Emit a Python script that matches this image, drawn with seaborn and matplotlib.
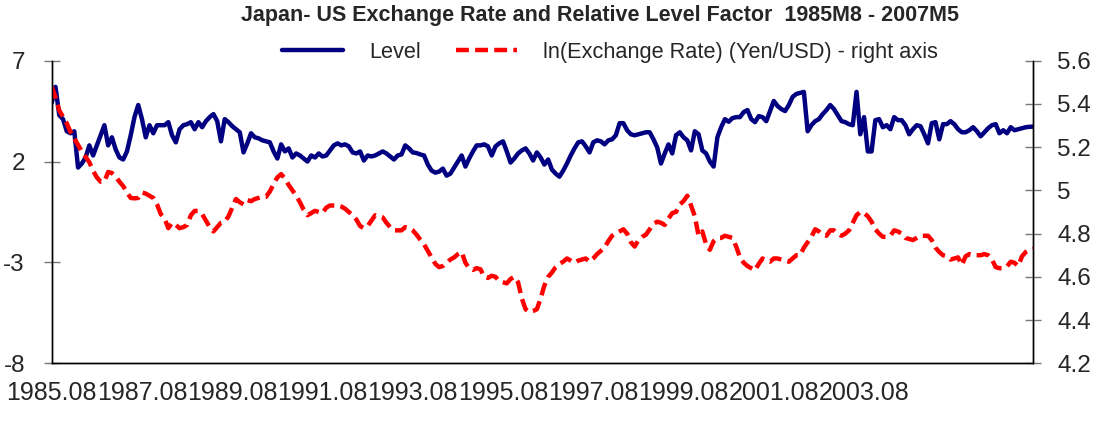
import matplotlib
matplotlib.use("Agg")
import matplotlib.pyplot as plt
import numpy as np
import pandas as pd
import seaborn as sns

# monthly data, 1985M8 - 2007M5
level = [
    4.9, 5.7, 4.3, 4.1, 3.5, 3.4, 3.5, 1.7, 1.9, 2.2,
    2.8, 2.3, 2.8, 3.3, 3.8, 2.8, 3.2, 2.6, 2.2, 2.1,
    2.5, 3.3, 4.2, 4.8, 4.1, 3.2, 3.8, 3.4, 3.8, 3.8,
    3.8, 3.95, 3.3, 2.95, 3.6, 3.8, 3.85, 3.95, 3.6, 3.95,
    3.7, 4.0, 4.2, 4.35, 4.0, 3.0, 4.1, 3.95, 3.75, 3.6,
    3.45, 2.45, 2.9, 3.4, 3.2, 3.15, 3.05, 3.0, 2.95, 2.5,
    2.15, 2.85, 2.5, 2.65, 2.2, 2.4, 2.3, 2.15, 2.0, 2.3,
    2.2, 2.4, 2.25, 2.3, 2.55, 2.8, 2.9, 2.8, 2.85, 2.75,
    2.45, 2.4, 2.5, 2.05, 2.3, 2.25, 2.3, 2.4, 2.5, 2.4,
    2.25, 2.1, 2.3, 2.35, 2.8, 2.65, 2.45, 2.42, 2.35, 2.3,
    1.85, 1.55, 1.45, 1.5, 1.65, 1.3, 1.4, 1.7, 2.0, 2.3,
    1.75, 2.15, 2.5, 2.8, 2.8, 2.85, 2.75, 2.3, 2.75, 2.9,
    3.0, 2.5, 1.95, 2.15, 2.4, 2.55, 2.65, 2.4, 2.05, 2.45,
    2.2, 1.85, 2.1, 1.6, 1.4, 1.25, 1.55, 1.9, 2.3, 2.65,
    2.95, 3.0, 2.75, 2.45, 2.95, 3.05, 3.0, 2.85, 3.05, 3.1,
    3.3, 3.9, 3.9, 3.55, 3.35, 3.3, 3.35, 3.4, 3.45, 3.45,
    3.1, 2.7, 1.9, 2.4, 2.85, 2.4, 3.3, 3.45, 3.2, 3.05,
    2.55, 3.5, 3.35, 2.55, 2.4, 2.0, 1.75, 3.2, 3.7, 4.1,
    3.97, 4.15, 4.2, 4.2, 4.45, 4.55, 4.1, 3.95, 4.25, 4.2,
    4.0, 4.5, 5.0, 4.75, 4.6, 4.5, 4.8, 5.2, 5.35, 5.4,
    5.45, 3.5, 3.8, 4.0, 4.1, 4.35, 4.55, 4.8, 4.6, 4.3,
    4.0, 3.95, 3.85, 3.8, 5.45, 3.35, 4.2, 2.5, 2.5, 4.05,
    4.1, 3.7, 3.8, 3.6, 4.2, 4.05, 4.05, 3.8, 3.35, 3.6,
    3.8, 3.75, 3.35, 2.9, 3.9, 3.95, 3.1, 3.85, 3.85, 4.0,
    3.85, 3.6, 3.45, 3.45, 3.55, 3.7, 3.5, 3.25, 3.45, 3.65,
    3.8, 3.85, 3.4, 3.55, 3.4, 3.7, 3.55, 3.6, 3.65, 3.7,
    3.72, 3.73,
]

ln_rate = [
    5.48, 5.43, 5.37, 5.34, 5.31, 5.27, 5.24, 5.21, 5.18, 5.155,
    5.13, 5.09, 5.06, 5.04, 5.04, 5.085, 5.08, 5.065, 5.04, 5.02,
    4.99, 4.965, 4.963, 4.965, 4.99, 4.985, 4.975, 4.965, 4.935, 4.89,
    4.87, 4.825, 4.85, 4.84, 4.825, 4.83, 4.84, 4.885, 4.905, 4.905,
    4.89, 4.86, 4.83, 4.81, 4.83, 4.85, 4.855, 4.88, 4.92, 4.96,
    4.945, 4.935, 4.955, 4.95, 4.96, 4.965, 4.97, 4.97, 4.995, 5.03,
    5.06, 5.075, 5.055, 5.025, 5.0, 4.975, 4.945, 4.91, 4.885, 4.895,
    4.905, 4.9, 4.895, 4.92, 4.93, 4.93, 4.93, 4.925, 4.915, 4.9,
    4.885, 4.865, 4.835, 4.825, 4.835, 4.86, 4.885, 4.88, 4.875, 4.85,
    4.83, 4.815, 4.815, 4.815, 4.83, 4.825, 4.815, 4.795, 4.772, 4.75,
    4.72, 4.69, 4.66, 4.645, 4.65, 4.665, 4.68, 4.69, 4.705, 4.715,
    4.665, 4.64, 4.632, 4.64, 4.635, 4.6, 4.595, 4.605, 4.6, 4.58,
    4.575, 4.57, 4.59, 4.6, 4.575, 4.5, 4.45, 4.437, 4.442, 4.45,
    4.5, 4.56, 4.6, 4.62, 4.645, 4.66, 4.67, 4.685, 4.675, 4.665,
    4.675, 4.68, 4.685, 4.67, 4.685, 4.705, 4.72, 4.735, 4.765, 4.79,
    4.8, 4.81, 4.82, 4.8, 4.76, 4.74, 4.77, 4.785, 4.795, 4.82,
    4.845, 4.855, 4.85, 4.84, 4.87, 4.895, 4.9, 4.935, 4.95, 4.975,
    4.93, 4.88, 4.79, 4.81, 4.75, 4.725, 4.765, 4.78, 4.78, 4.79,
    4.785, 4.78, 4.74, 4.69, 4.665, 4.65, 4.64, 4.63, 4.66, 4.685,
    4.675, 4.67, 4.685, 4.685, 4.68, 4.675, 4.67, 4.685, 4.7, 4.7,
    4.735, 4.76, 4.785, 4.82, 4.81, 4.795, 4.79, 4.815, 4.815, 4.8,
    4.79, 4.8, 4.815, 4.85, 4.885, 4.9, 4.895, 4.88, 4.855, 4.82,
    4.8, 4.785, 4.785, 4.79, 4.815, 4.81, 4.8, 4.78, 4.775, 4.77,
    4.78, 4.79, 4.79, 4.79, 4.77, 4.735, 4.715, 4.7, 4.695, 4.68,
    4.685, 4.69, 4.655, 4.695, 4.705, 4.7, 4.7, 4.7, 4.705, 4.7,
    4.68, 4.645, 4.64, 4.64, 4.648, 4.67, 4.665, 4.65, 4.695, 4.715,
    4.725, 4.73,
]

date_labels = ['1985.08', '1987.08', '1989.08', '1991.08', '1993.08',
               '1995.08', '1997.08', '1999.08', '2001.08', '2003.08']
left_ticks = [7, 2, -3, -8]
right_ticks = [5.6, 5.4, 5.2, 5.0, 4.8, 4.6, 4.4, 4.2]
right_labels = ['5.6', '5.4', '5.2', '5', '4.8', '4.6', '4.4', '4.2']

df = pd.DataFrame({'month': np.arange(len(level)), 'level': level, 'rate': ln_rate})
n = len(df)

sns.set_style('white')
plt.rcParams['font.family'] = ['Liberation Sans', 'DejaVu Sans']

fig = plt.figure(figsize=(11.03, 4.21), dpi=100)
ax = fig.add_axes([0.0469, 0.137, 0.8899, 0.719])
ax2 = ax.twinx()

sns.lineplot(data=df, x='month', y='level', ax=ax, color='#000080', linewidth=3.2, label='Level', legend=False)
sns.lineplot(data=df, x='month', y='rate', ax=ax2, color='#ff0000', linewidth=3.2,
             label='ln(Exchange Rate) (Yen/USD) - right axis', legend=False)
ax2.lines[0].set_dashes((2.9, 1.4))

ax.set_xlim(0, n - 1)
ax.set_ylim(-8, 7)
ax2.set_ylim(4.2, 5.6)
ax.set_xlabel('')
ax.set_ylabel('')
ax2.set_ylabel('')

ax.set_yticks(left_ticks)
ax.set_yticklabels([str(t) for t in left_ticks])
ax2.set_yticks(right_ticks)
ax2.set_yticklabels(right_labels)

# tick marks every 13 months, labels every 24 months
ax.xaxis.remove_overlapping_locs = False
ax.set_xticks(list(range(0, n - 1, 13)) + [n - 1])
ax.set_xticklabels([])
ax.set_xticks(list(range(0, 24 * len(date_labels), 24)), minor=True)
ax.set_xticklabels(date_labels, minor=True)

tick_col = '#777777'
ax.tick_params(axis='x', which='major', direction='inout', length=8.6, width=1, color=tick_col)
ax.tick_params(axis='x', which='minor', length=0, pad=12.5, labelsize=18)
ax.tick_params(axis='y', direction='inout', length=11.5, width=1, color=tick_col, pad=13.5, labelsize=17.5)
ax2.tick_params(axis='y', direction='inout', length=11.5, width=1, color=tick_col, pad=11.5, labelsize=17.5)

for a in (ax, ax2):
    a.spines['top'].set_visible(False)
    for s in ('left', 'right', 'bottom'):
        a.spines[s].set_color('black')
        a.spines[s].set_linewidth(1.0)
    a.grid(False)

fig.text(0.544, 0.962, 'Japan- US Exchange Rate and Relative Level Factor  1985M8 - 2007M5',
         ha='center', va='center', fontsize=15.5, fontweight='bold')

handles = [ax.lines[0], ax2.lines[0]]
fig.legend(handles, [h.get_label() for h in handles], loc='center left',
           bbox_to_anchor=(0.256, 0.876), ncol=2, frameon=False, fontsize=15.7,
           borderpad=0, borderaxespad=0, handlelength=2.8, handletextpad=1.2,
           columnspacing=1.6)

fig.savefig('out.png', dpi=100, facecolor='white')
